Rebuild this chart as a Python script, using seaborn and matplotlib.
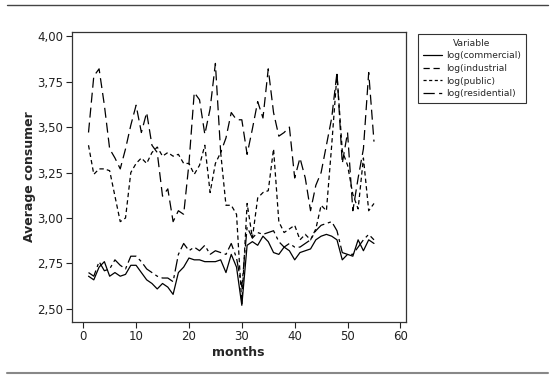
import numpy as np
import pandas as pd
import matplotlib
matplotlib.use("Agg")
import matplotlib.pyplot as plt
import seaborn as sns
from matplotlib.lines import Line2D
from matplotlib.ticker import FuncFormatter, MultipleLocator

months = list(range(1, 56))

commercial = [2.68, 2.66, 2.73, 2.76, 2.68, 2.70, 2.68, 2.69, 2.74, 2.74,
              2.70, 2.66, 2.64, 2.61, 2.64, 2.62, 2.58, 2.70, 2.73, 2.78,
              2.77, 2.77, 2.76, 2.76, 2.76, 2.77, 2.70, 2.80, 2.73, 2.52,
              2.85, 2.87, 2.85, 2.90, 2.87, 2.81, 2.80, 2.84, 2.82, 2.77,
              2.81, 2.82, 2.83, 2.88, 2.90, 2.91, 2.90, 2.88, 2.77, 2.80,
              2.79, 2.88, 2.82, 2.88, 2.86]

industrial = [3.47, 3.78, 3.82, 3.62, 3.38, 3.33, 3.27, 3.38, 3.51, 3.62,
              3.47, 3.58, 3.40, 3.36, 3.12, 3.16, 2.98, 3.04, 3.02, 3.30,
              3.69, 3.65, 3.46, 3.60, 3.85, 3.36, 3.44, 3.58, 3.54, 3.54,
              3.35, 3.49, 3.64, 3.55, 3.82, 3.58, 3.45, 3.47, 3.50, 3.22,
              3.33, 3.22, 3.04, 3.18, 3.25, 3.40, 3.55, 3.80, 3.30, 3.47,
              3.04, 3.22, 3.38, 3.80, 3.42]

public = [3.40, 3.24, 3.27, 3.27, 3.26, 3.12, 2.98, 3.00, 3.25, 3.30,
          3.33, 3.30, 3.36, 3.39, 3.34, 3.36, 3.34, 3.35, 3.30, 3.30,
          3.24, 3.29, 3.40, 3.14, 3.30, 3.36, 3.07, 3.07, 3.02, 2.53,
          3.08, 2.89, 3.11, 3.14, 3.15, 3.38, 2.98, 2.92, 2.94, 2.96,
          2.88, 2.91, 2.88, 2.94, 3.07, 3.04, 3.40, 3.79, 3.37, 3.29,
          3.13, 3.05, 3.33, 3.04, 3.08]

residential = [2.70, 2.68, 2.76, 2.71, 2.72, 2.77, 2.74, 2.72, 2.79, 2.79,
               2.76, 2.72, 2.70, 2.68, 2.67, 2.67, 2.65, 2.80, 2.86, 2.82,
               2.84, 2.82, 2.85, 2.80, 2.82, 2.81, 2.80, 2.86, 2.78, 2.62,
               2.95, 2.89, 2.92, 2.91, 2.92, 2.93, 2.87, 2.84, 2.86, 2.84,
               2.84, 2.86, 2.88, 2.93, 2.96, 2.97, 2.98, 2.93, 2.81, 2.80,
               2.80, 2.84, 2.88, 2.91, 2.88]

names = ["log(commercial)", "log(industrial", "log(public)", "log(residential)"]
series = [commercial, industrial, public, residential]

df = pd.concat([pd.DataFrame({"months": months, "value": s, "Variable": n})
                for n, s in zip(names, series)], ignore_index=True)

sns.set_style("white")
plt.rcParams["font.family"] = ["DejaVu Sans"]

fig = plt.figure(figsize=(5.55, 3.78), dpi=100)
ax = fig.add_axes([0.129, 0.149, 0.602, 0.767])

dashes = {
    names[0]: "",
    names[1]: (8, 4),
    names[2]: (3.5, 2.5),
    names[3]: (10, 3, 2.5, 3),
}
palette = {n: "black" for n in names}

sns.lineplot(data=df, x="months", y="value", hue="Variable", style="Variable",
             dashes=dashes, palette=palette, linewidth=0.9, ax=ax, legend=False)

ax.set_xlim(-2.2, 61)
ax.set_ylim(2.43, 4.024)
ax.xaxis.set_major_locator(MultipleLocator(10))
ax.yaxis.set_major_locator(MultipleLocator(0.25))
ax.yaxis.set_major_formatter(FuncFormatter(lambda v, p: f"{v:.2f}".replace(".", ",")))
ax.tick_params(axis="both", which="major", direction="out", length=4, width=0.8,
               labelsize=8.5, colors="#222222", pad=2, left=True, bottom=True)
for sp in ax.spines.values():
    sp.set_color("#333333")
    sp.set_linewidth(0.9)

ax.set_xlabel("months", fontsize=9, fontweight="bold", labelpad=2)
ax.set_ylabel("Average consumer", fontsize=9, fontweight="bold", labelpad=1)

legend_dashes = {names[1]: (5, 3), names[2]: (2.5, 2), names[3]: (9, 3.5, 2.5, 3)}
handles = []
for n in names:
    if n in legend_dashes:
        handles.append(Line2D([0], [0], color="black", lw=0.9, dashes=legend_dashes[n]))
    else:
        handles.append(Line2D([0], [0], color="black", lw=0.9, linestyle="-"))
leg = fig.legend(handles, names, title="Variable", loc="upper left",
                 bbox_to_anchor=(418 / 555, 1 - 34 / 378),
                 bbox_transform=fig.transFigure, fontsize=6.6, title_fontsize=6.6,
                 frameon=True, fancybox=False, handlelength=2.1,
                 handletextpad=0.5, borderpad=0.5, labelspacing=0.4,
                 borderaxespad=0)
leg.get_frame().set_edgecolor("black")
leg.get_frame().set_linewidth(0.8)

fig.add_artist(Line2D([0.012, 0.988], [1 - 5 / 378, 1 - 5 / 378],
                      transform=fig.transFigure, color="#444444", lw=1.0))
fig.add_artist(Line2D([0.012, 0.988], [1 - 373 / 378, 1 - 373 / 378],
                      transform=fig.transFigure, color="#888888", lw=1.5))

fig.savefig("out.png", dpi=100)
